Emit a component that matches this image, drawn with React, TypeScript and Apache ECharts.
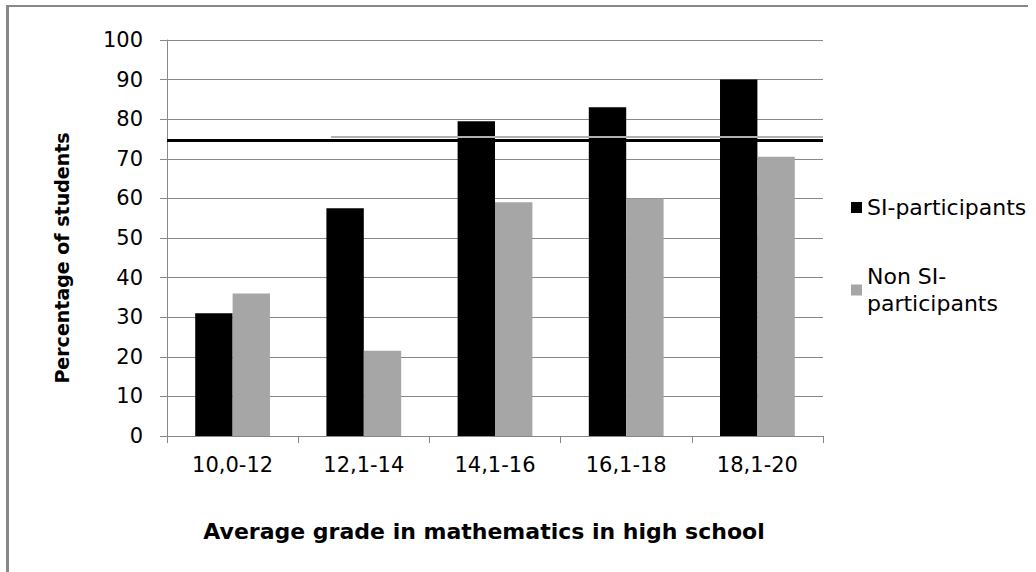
import React, { useEffect, useRef } from "react";
import * as echarts from "echarts";

const categories = ["10,0-12", "12,1-14", "14,1-16", "16,1-18", "18,1-20"];
const siParticipants = [31, 57.5, 79.5, 83, 90];
const nonSiParticipants = [36, 21.5, 59, 60, 70.5];
const yTicks = { min: 0, max: 100, interval: 10 };
const refValue = 74.8;
// light shadow of the reference line (x as fraction of plot width)
const refLineLight = [[0.25, 75.5], [1.0, 75.5]];

const FONT = "DejaVu Sans";

export default function App() {
  const ref = useRef<HTMLDivElement>(null);
  useEffect(() => {
    document.body.style.margin = "0";
    if (!ref.current) return;
    const chart = echarts.init(ref.current, undefined, { renderer: "svg" });
    chart.setOption({
      animation: false,
      backgroundColor: "#fff",
      grid: { left: 167, right: 213, top: 40, bottom: 136 },
      legend: {
        orient: "vertical",
        left: 846,
        top: 189,
        itemGap: 42,
        itemWidth: 11,
        itemHeight: 11,
        icon: "rect",
        data: ["SI-participants", "Non SI-participants"],
        formatter: (n: string) => (n === "Non SI-participants" ? "Non SI-\nparticipants" : n),
        textStyle: { fontFamily: FONT, fontSize: 22, color: "#000", lineHeight: 27 },
      },
      xAxis: [
        {
          type: "category",
          data: categories,
          axisLine: { lineStyle: { color: "#888", width: 1 } },
          axisTick: { show: true, length: 7, lineStyle: { color: "#888" } },
          axisLabel: { fontFamily: FONT, fontSize: 21, color: "#000", margin: 18 },
          name: "Average grade in mathematics in high school",
          nameLocation: "middle",
          nameGap: 84,
          nameTextStyle: { fontFamily: FONT, fontSize: 22, fontWeight: "bold", color: "#000", verticalAlign: "top", padding: [0, 22, 0, 0] },
        },
        { type: "value", min: 0, max: 1, show: false },
      ],
      yAxis: {
        type: "value",
        min: yTicks.min,
        max: yTicks.max,
        interval: yTicks.interval,
        axisLine: { show: true, lineStyle: { color: "#888", width: 1 } },
        axisTick: { show: true, length: 7, lineStyle: { color: "#888" } },
        splitLine: { lineStyle: { color: "#888", width: 1 } },
        axisLabel: { fontFamily: FONT, fontSize: 21, color: "#000", margin: 24 },
      },
      series: [
        {
          name: "SI-participants",
          type: "bar",
          data: siParticipants,
          itemStyle: { color: "#000" },
          barGap: "0%",
          barCategoryGap: "43%",
          markLine: {
            silent: true,
            symbol: "none",
            label: { show: false },
            lineStyle: { color: "#000", width: 3, type: "solid" },
            data: [{ yAxis: refValue }],
            z: 5,
          },
        },
        {
          name: "Non SI-participants",
          type: "bar",
          data: nonSiParticipants,
          itemStyle: { color: "#a6a6a6" },
          barGap: "0%",
          barCategoryGap: "43%",
        },
        {
          name: "refLight",
          type: "line",
          xAxisIndex: 1,
          data: refLineLight,
          symbol: "none",
          lineStyle: { color: "#b0b0b0", width: 2 },
          z: 3,
        },
      ],
      graphic: [
        { type: "rect", shape: { x: 6, y: 5, width: 1022, height: 2 }, style: { fill: "#888" }, z: 100 },
        { type: "rect", shape: { x: 6, y: 5, width: 3, height: 570 }, style: { fill: "#888" }, z: 100 },
        {
          type: "text",
          x: 62,
          y: 258,
          rotation: Math.PI / 2,
          style: {
            text: "Percentage of students",
            fontFamily: FONT,
            fontSize: 19,
            fontWeight: "bold",
            fill: "#000",
            align: "center",
            verticalAlign: "middle",
          },
        },
      ],
    });
    return () => chart.dispose();
  }, []);
  return <div ref={ref} style={{ width: 1036, height: 572 }} />;
}
